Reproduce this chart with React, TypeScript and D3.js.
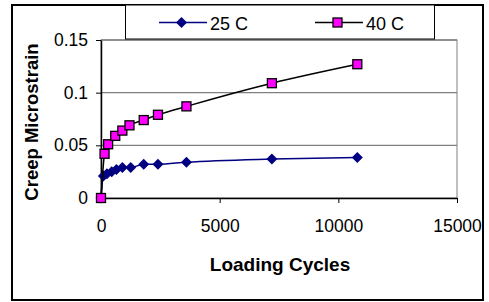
import React, { useEffect, useRef } from 'react';
import * as d3 from 'd3';

// loading cycles / creep microstrain
const cycles25 = [0, 100, 250, 450, 650, 900, 1250, 1800, 2400, 3600, 7200, 10800];
const strain25 = [0, 0.021, 0.023, 0.025, 0.027, 0.029, 0.029, 0.032, 0.032, 0.034, 0.037, 0.0385];
const cycles40 = [0, 150, 300, 600, 900, 1200, 1800, 2400, 3600, 7200, 10800];
const strain40 = [0, 0.042, 0.051, 0.059, 0.064, 0.069, 0.074, 0.079, 0.087, 0.109, 0.127];
const xTicks = [0, 5000, 10000, 15000];
const yTicks = [0, 0.05, 0.1, 0.15];
const seriesNames = ['25 C', '40 C'];

const W = 489;
const H = 302;

export default function App() {
  const ref = useRef<SVGSVGElement>(null);

  useEffect(() => {
    const svg = d3.select(ref.current);
    svg.selectAll('*').remove();
    const font = 'Arial, "Liberation Sans", sans-serif';
    const plot = { left: 101, right: 457, top: 40, bottom: 198 };

    const x = d3.scaleLinear().domain([0, 15000]).range([plot.left, plot.right]);
    const y = d3.scaleLinear().domain([0, 0.15]).range([plot.bottom, plot.top]);

    svg.append('rect').attr('width', W).attr('height', H).attr('fill', '#fff');

    // outer frame
    svg.append('rect')
      .attr('x', 12).attr('y', 5).attr('width', 471).attr('height', 295)
      .attr('fill', 'none').attr('stroke', '#000').attr('stroke-width', 2);

    // plot area border + gridlines
    svg.append('rect')
      .attr('x', plot.left).attr('y', plot.top)
      .attr('width', plot.right - plot.left).attr('height', plot.bottom - plot.top)
      .attr('fill', '#fff').attr('stroke', '#808080').attr('stroke-width', 1);
    svg.append('g').selectAll('line')
      .data(yTicks.filter(d => d > 0))
      .join('line')
      .attr('x1', plot.left).attr('x2', plot.right)
      .attr('y1', d => y(d)).attr('y2', d => y(d))
      .attr('stroke', '#808080').attr('stroke-width', 1.3);

    // axes
    const yAxis = svg.append('g')
      .attr('transform', `translate(${plot.left},0)`)
      .call(d3.axisLeft(y).tickValues(yTicks).tickFormat(d => String(+d)).tickSize(5).tickPadding(8).tickSizeOuter(0));
    const xAxis = svg.append('g')
      .attr('transform', `translate(0,${plot.bottom})`)
      .call(d3.axisBottom(x).tickValues(xTicks).tickFormat(d => String(d)).tickSize(5).tickPadding(17).tickSizeOuter(0));
    [xAxis, yAxis].forEach(g => {
      g.select('.domain').attr('stroke', '#000').attr('stroke-width', 1.5);
      g.selectAll('line').attr('stroke', '#000');
      g.selectAll('text').attr('font-family', font).attr('font-size', 17.5).attr('fill', '#000');
    });

    // titles
    svg.append('text')
      .attr('x', 280).attr('y', 271)
      .attr('text-anchor', 'middle').attr('font-family', font)
      .attr('font-size', 19).attr('font-weight', 'bold').text('Loading Cycles');
    svg.append('text')
      .attr('transform', `translate(38,122) rotate(-90)`)
      .attr('text-anchor', 'middle').attr('font-family', font)
      .attr('font-size', 18.5).attr('font-weight', 'bold').text('Creep Microstrain');

    const line = d3.line<[number, number]>()
      .x(d => x(d[0])).y(d => y(d[1]))
      .curve(d3.curveMonotoneX);

    const d25 = cycles25.map((c, i) => [c, strain25[i]] as [number, number]);
    const d40 = cycles40.map((c, i) => [c, strain40[i]] as [number, number]);

    const diamond = (g: any, cx: number, cy: number) =>
      g.append('path')
        .attr('d', `M${cx},${cy - 5.5}L${cx + 5.5},${cy}L${cx},${cy + 5.5}L${cx - 5.5},${cy}Z`)
        .attr('fill', '#000080');
    const square = (g: any, cx: number, cy: number) =>
      g.append('rect')
        .attr('x', cx - 4.5).attr('y', cy - 4.5).attr('width', 9).attr('height', 9)
        .attr('fill', '#ff00ff').attr('stroke', '#000').attr('stroke-width', 1.3);

    const s25 = svg.append('g');
    s25.append('path').datum(d25).attr('d', line).attr('fill', 'none')
      .attr('stroke', '#000080').attr('stroke-width', 1.5);
    d25.forEach(d => diamond(s25, x(d[0]), y(d[1])));

    const s40 = svg.append('g');
    s40.append('path').datum(d40).attr('d', line).attr('fill', 'none')
      .attr('stroke', '#000').attr('stroke-width', 1.5);
    d40.forEach(d => square(s40, x(d[0]), y(d[1])));

    // legend
    const leg = svg.append('g');
    leg.append('rect')
      .attr('x', 125.5).attr('y', 5).attr('width', 309).attr('height', 34)
      .attr('fill', '#fff').attr('stroke', '#000').attr('stroke-width', 1);
    const items = [
      { x0: 159, color: '#000080', mark: diamond },
      { x0: 315, color: '#000', mark: square },
    ];
    items.forEach((it, i) => {
      leg.append('line')
        .attr('x1', it.x0).attr('x2', it.x0 + 48).attr('y1', 22.5).attr('y2', 22.5)
        .attr('stroke', it.color).attr('stroke-width', 1.5);
      it.mark(leg, it.x0 + 22.5, 22.5);
      leg.append('text')
        .attr('x', it.x0 + 51).attr('y', 29.5)
        .attr('font-family', font).attr('font-size', 18).text(seriesNames[i]);
    });
  }, []);

  return (
    <svg ref={ref} width={W} height={H}
      style={{ position: 'absolute', left: 0, top: 0, display: 'block' }} />
  );
}
